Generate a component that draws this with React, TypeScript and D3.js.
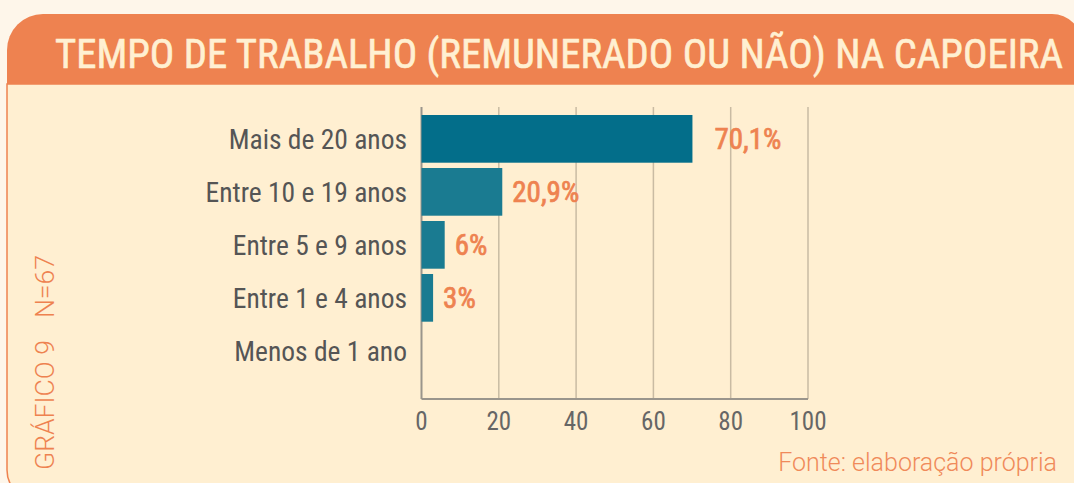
import React from "react";
import * as d3 from "d3";

const title = "TEMPO DE TRABALHO (REMUNERADO OU NÃO) NA CAPOEIRA";
const categories = ["Mais de 20 anos", "Entre 10 e 19 anos", "Entre 5 e 9 anos", "Entre 1 e 4 anos", "Menos de 1 ano"];
const values = [70.1, 20.9, 6, 3, 0];
const valueLabels = ["70,1%", "20,9%", "6%", "3%", ""];
const xTicks = [0, 20, 40, 60, 80, 100];
const sideLabelA = "GRÁFICO 9";
const sideLabelB = "N=67";
const sourceLabel = "Fonte: elaboração própria";

const W = 1074;
const H = 483;
const COND = "'Roboto Condensed', 'Liberation Sans Narrow', 'DejaVu Sans Condensed', 'Arial Narrow', sans-serif";
const LIGHT = "Roboto, 'Open Sans', sans-serif";
const ORANGE = "#EE8250";

export default function App() {
  const x = d3.scaleLinear().domain([0, 100]).range([421.5, 808]);
  const y = d3.scaleBand<string>().domain(categories).range([109.7, 380]).paddingInner(0.1).paddingOuter(0.1);
  const top = 107;
  const base = 399;

  const header = `M7,84 L7,50 A36,36 0 0 1 43,14 L1052,14 A30,30 0 0 1 1082,44 L1082,84 Z`;
  const body = `M7,84 L1082,84 L1082,500 L37,500 A30,30 0 0 1 7,470 Z`;

  return (
    <svg width={W} height={H} style={{ position: "absolute", left: 0, top: 0, display: "block" }}>
      <rect x={0} y={0} width={W} height={H} fill="#FEF6EA" />
      <path d={body} fill="#FFEFD1" stroke={ORANGE} strokeWidth={1.5} />
      <path d={header} fill={ORANGE} />
      <text x={55} y={68} fill="#FFF0D2" stroke="#FFF0D2" strokeWidth={0.6} fontFamily={COND} fontSize={41} textLength={1008} lengthAdjust="spacingAndGlyphs">
        {title}
      </text>

      {xTicks.map((t) => (
        <line key={t} x1={x(t)} x2={x(t)} y1={top} y2={base} stroke={t === 0 ? "#9A958C" : "#C9BBA3"} strokeWidth={t === 0 ? 2 : 1.5} />
      ))}
      <line x1={x(0)} x2={x(100)} y1={base} y2={base} stroke="#9A958C" strokeWidth={2} />

      {categories.map((c, i) => (
        <rect key={c} x={x(0)} y={y(c)} width={x(values[i]) - x(0)} height={y.bandwidth()} fill={i === 0 ? "#036E8A" : "#1A7B91"} />
      ))}

      {categories.map((c, i) =>
        valueLabels[i] ? (
          <text key={c} x={x(values[i]) + (i === 0 ? 22 : 10)} y={(y(c) as number) + y.bandwidth() / 2 + 10} fill={ORANGE} stroke={ORANGE} strokeWidth={0.7} fontFamily={COND} fontSize={29}>
            {valueLabels[i]}
          </text>
        ) : null
      )}

      {categories.map((c) => (
        <text key={c} x={407} y={(y(c) as number) + y.bandwidth() / 2 + 10} textAnchor="end" fill="#555555" fontFamily={COND} fontSize={27.5}>
          {c}
        </text>
      ))}

      {xTicks.map((t) => (
        <text key={t} x={x(t)} y={430} textAnchor="middle" fill="#666666" fontFamily={COND} fontSize={25}>
          {t}
        </text>
      ))}

      <text transform="translate(54,470) rotate(-90)" fill={ORANGE} fontFamily={LIGHT} fontWeight={300} fontSize={26} textLength={130} lengthAdjust="spacingAndGlyphs">
        {sideLabelA}
      </text>
      <text transform="translate(54,318) rotate(-90)" fill={ORANGE} fontFamily={LIGHT} fontWeight={300} fontSize={26} textLength={63} lengthAdjust="spacingAndGlyphs">
        {sideLabelB}
      </text>
      <text x={1057} y={471} textAnchor="end" fill="#F08A5A" fontFamily={LIGHT} fontWeight={300} fontSize={25}>
        {sourceLabel}
      </text>
    </svg>
  );
}
